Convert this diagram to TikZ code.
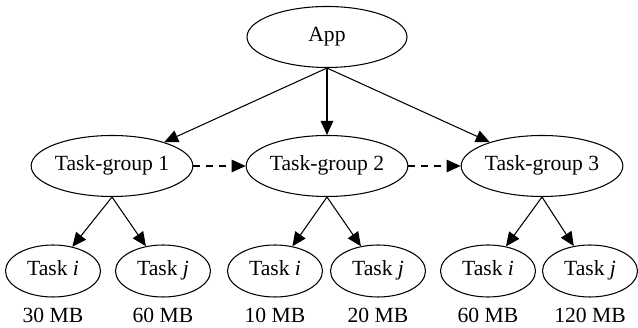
\documentclass[tikz,border=0pt]{standalone}
\usepackage{fontspec}
\setmainfont{Liberation Serif}
\usetikzlibrary{shapes.geometric,arrows.meta}

\tikzset{
    big/.style={ellipse, draw, minimum width=3.2cm, minimum height=1.22cm, inner sep=0pt, text height=1.6ex, text depth=0.4ex},
    small/.style={ellipse, draw, minimum width=1.9cm, minimum height=1.04cm, inner sep=0pt, text height=1.6ex, text depth=0.4ex},
    tip/.style={-{Triangle[length=0.28cm,width=0.25cm]}},
    size/.style={inner sep=0pt}
}

\begin{document}
\begin{tikzpicture}[font=\fontsize{12.3}{14}\selectfont, line width=0.6pt]
                    \useasboundingbox (0,0) rectangle (12.76,6.56);

                    % application and its task-groups
                    \node[big] (app) at (6.54,5.82) {App};
                    \node[big] (tg1) at (2.24,3.24) {Task-group 1};
                    \node[big] (tg2) at (6.54,3.24) {Task-group 2};
                    \node[big] (tg3) at (10.84,3.24) {Task-group 3};

                    \draw[tip] (app.south) -- (tg1);
                    \draw[tip] (app.south) -- (tg2);
                    \draw[tip] (app.south) -- (tg3);
                    \draw[tip, dash pattern=on 0.14cm off 0.12cm] (tg1) -- (tg2);
                    \draw[tip, dash pattern=on 0.14cm off 0.12cm] (tg2) -- (tg3);

                    % tasks with their memory
                    \node[small] (t1i) at (1.06,1.14) {Task \textit{i}};
                    \node[small] (t1j) at (3.26,1.14) {Task \textit{j}};
                    \node[small] (t2i) at (5.50,1.14) {Task \textit{i}};
                    \node[small] (t2j) at (7.56,1.14) {Task \textit{j}};
                    \node[small] (t3i) at (9.76,1.14) {Task \textit{i}};
                    \node[small] (t3j) at (11.80,1.14) {Task \textit{j}};

                    \draw[tip] (tg1.south) -- (t1i);
                    \draw[tip] (tg1.south) -- (t1j);
                    \draw[tip] (tg2.south) -- (t2i);
                    \draw[tip] (tg2.south) -- (t2j);
                    \draw[tip] (tg3.south) -- (t3i);
                    \draw[tip] (tg3.south) -- (t3j);

                    \node[size] (m1i) at (1.06,0.26) {30 MB};
                    \node[size] (m1j) at (3.26,0.26) {60 MB};
                    \node[size] (m2i) at (5.50,0.26) {10 MB};
                    \node[size] (m2j) at (7.56,0.26) {20 MB};
                    \node[size] (m3i) at (9.76,0.26) {60 MB};
                    \node[size] (m3j) at (11.80,0.26) {120 MB};
\end{tikzpicture}
\end{document}
